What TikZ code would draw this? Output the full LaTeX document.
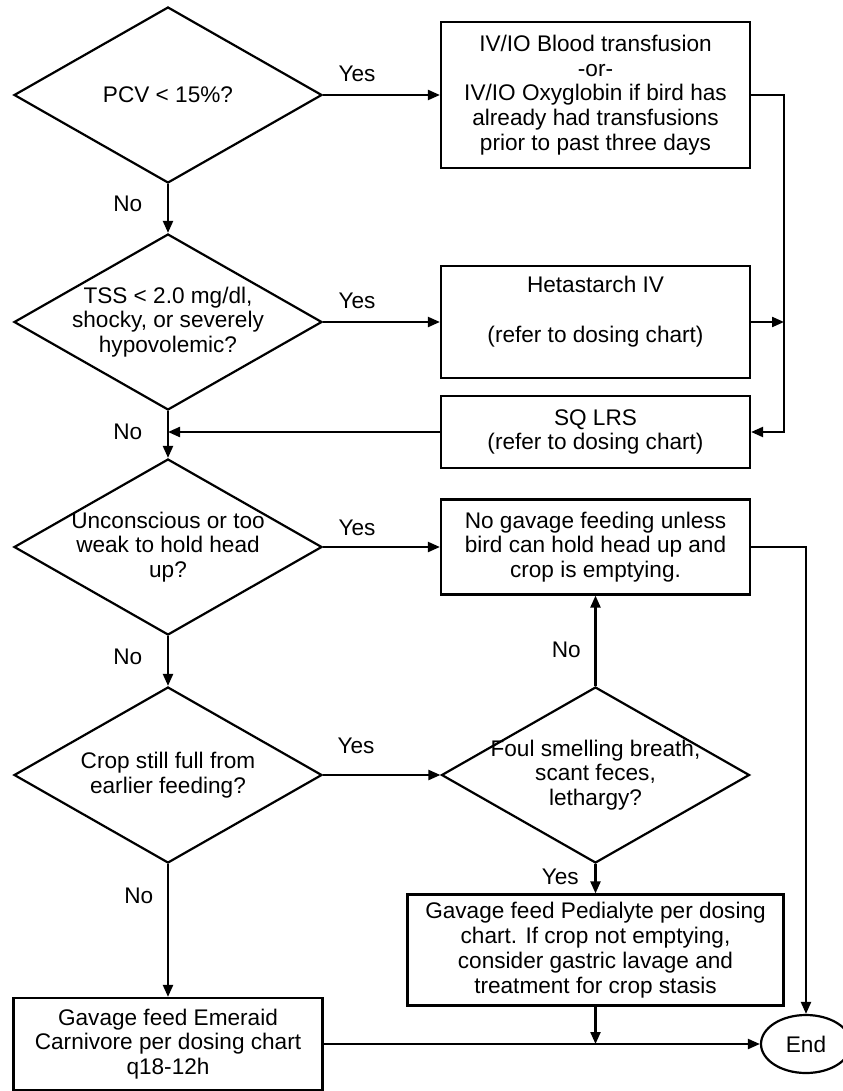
\documentclass[tikz,border=0pt]{standalone}
\usepackage{fontspec}
\setmainfont{Liberation Sans}
\usetikzlibrary{arrows.meta, shapes.geometric}
\newcommand{\chartfont}{\fontsize{11.3}{12.4}\selectfont}

\begin{document}
\begin{tikzpicture}[x=0.5pt, y=-0.5pt, line width=1.1pt,
        >={Triangle[length=6pt, width=5pt]},
        every node/.style={font=\chartfont, align=center},
        decision/.style={draw, diamond, minimum width=154pt, minimum height=88pt, inner xsep=-30pt, inner ysep=0pt},
        process/.style={draw, rectangle, minimum width=154.5pt}]
        \useasboundingbox (0,0) rectangle (842,1091);

        % 判定 (左列)
        \node[decision] (pcv) at (168,95) {PCV < 15\%?};
        \node[decision] (tss) at (168,322) {TSS < 2.0 mg/dl,\\shocky, or severely\\hypovolemic?};
        \node[decision] (weak) at (168,547) {Unconscious or too\\weak to hold head\\up?};
        \node[decision] (crop) at (168,775) {Crop still full from\\earlier feeding?};
        \node[decision] (foul) at (595.5,775) {Foul smelling breath,\\scant feces,\\lethargy?};

        % 処置
        \node[process, minimum height=73pt] (blood) at (595.5,95) {IV/IO Blood transfusion\\-or-\\IV/IO Oxyglobin if bird has\\already had transfusions\\prior to past three days};
        \node[process, minimum height=56pt] (heta) at (595.5,322) {Hetastarch IV\\[12.4pt](refer to dosing chart)\\ \mbox{}};
        \node[process, minimum height=36pt] (lrs) at (595.5,432) {SQ LRS\\(refer to dosing chart)};
        \node[process, minimum height=47.5pt] (nofeed) at (595.5,547) {No gavage feeding unless\\bird can hold head up and\\crop is emptying.};
        \node[process, minimum width=188pt, minimum height=55.5pt] (pedia) at (595.5,950) {Gavage feed Pedialyte per dosing\\chart. If crop not emptying,\\consider gastric lavage and\\treatment for crop stasis};
        \node[process, minimum height=46pt] (emer) at (168,1044) {Gavage feed Emeraid\\Carnivore per dosing chart\\q18-12h};
        \node[draw, ellipse, inner sep=0pt, minimum width=45pt, minimum height=29pt] (end) at (806,1044) {End};

        \coordinate (rj) at (784,322);
        \coordinate (lj) at (168,432);
        \coordinate (bj) at (595.5,1044);

        % 縦の流れ
        \path[->] (pcv) edge node[pos=.4, left=9pt] {No} (tss);
        \path[->] (tss) edge node[pos=.45, left=9pt] {No} (weak);
        \path[->] (weak) edge node[pos=.42, left=9pt] {No} (crop);
        \path[->] (crop) edge node[pos=.24, left=3.5pt] {No} (emer);
        \path[->] (foul) edge node[pos=.4, left=3.5pt] {No} (nofeed);
        \path[->] (foul) edge node[pos=.45, left=4.5pt] {Yes} (pedia);

        % Yes 分岐
        \path[->] (pcv) edge node[pos=.29, above=3pt] {Yes} (blood);
        \path[->] (tss) edge node[pos=.29, above=3pt] {Yes} (heta);
        \path[->] (weak) edge node[pos=.29, above=2pt] {Yes} (nofeed);
        \path[->] (crop) edge node[pos=.28, above=7pt] {Yes} (foul);

        % 右側の戻り線
        \draw[->] (blood.east) -| (rj) |- (lrs.east);
        \draw[->] (heta) -- (rj);
        \draw[->] (lrs) -- (lj);
        \draw[->] (nofeed) -| (end);
        \draw[->] (pedia) -- (bj);
        \draw[->] (emer) -- (end);
    \end{tikzpicture}
\end{document}
